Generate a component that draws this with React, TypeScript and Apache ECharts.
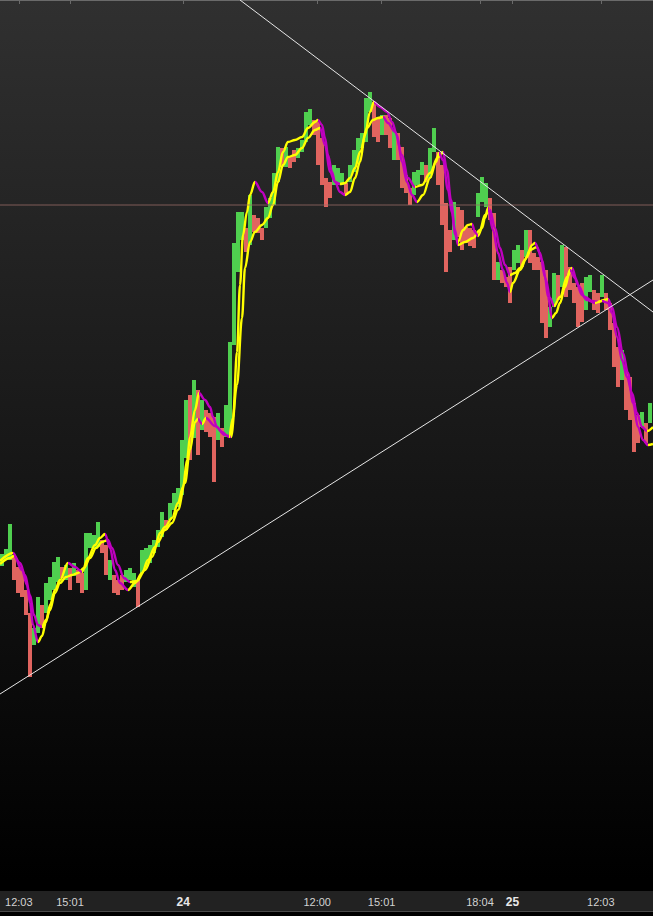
import React, { useEffect, useRef } from "react";
import * as echarts from "echarts";

// ---- Bars (one every bar slot; values are the price scale, top of chart = 0, inverted) ----
const barHigh = [
  554, 549, 524, 555, 567, 570, 590, 613, 628, 597, 605, 583, 577, 562, 557, 567, 565, 568, 563, 570,
  573, 533, 533, 535, 522, 540, 545, 560, 575, 580, 575, 570, 568, 573, 580, 550, 548, 545, 540, 530,
  512, 520, 503, 493, 488, 440, 400, 395, 380, 390, 400, 410, 413, 417, 413, 428, 405, 342, 243, 212,
  212, 228, 195, 215, 218, 228, 207, 198, 173, 147, 148, 147, 157, 150, 148, 140, 112, 109, 120, 122,
  138, 178, 182, 165, 168, 173, 183, 165, 150, 138, 133, 98, 92, 102, 118, 115, 115, 118, 130, 133,
  147, 175, 188, 172, 170, 162, 165, 148, 128, 152, 165, 203, 230, 202, 207, 210, 227, 228, 230, 193,
  177, 183, 198, 213, 262, 270, 277, 267, 250, 245, 250, 230, 230, 253, 257, 262, 270, 307, 273, 275,
  245, 247, 267, 283, 287, 283, 277, 275, 290, 293, 275, 293, 303, 323, 347, 350, 370, 377, 403, 415,
  412, 423, 403,
];
const barLow = [
  566, 560, 560, 580, 593, 597, 615, 677, 645, 633, 628, 613, 600, 590, 582, 578, 580, 590, 576, 583,
  593, 590, 548, 549, 547, 553, 575, 580, 593, 595, 590, 582, 580, 587, 607, 573, 567, 563, 553, 547,
  537, 530, 520, 510, 507, 495, 458, 460, 438, 455, 430, 432, 437, 482, 440, 447, 437, 437, 345, 272,
  240, 252, 245, 232, 233, 240, 228, 218, 205, 182, 167, 167, 168, 162, 158, 152, 142, 125, 135, 165,
  185, 207, 198, 185, 185, 185, 195, 182, 172, 163, 148, 142, 112, 137, 142, 135, 135, 148, 160, 160,
  188, 193, 205, 195, 185, 175, 182, 178, 152, 185, 225, 272, 252, 240, 237, 250, 243, 246, 248, 217,
  202, 207, 220, 280, 280, 283, 287, 303, 270, 263, 267, 257, 263, 270, 270, 323, 338, 327, 307, 300,
  287, 297, 290, 303, 327, 322, 310, 292, 310, 313, 297, 310, 330, 367, 387, 380, 410, 420, 452, 443,
  427, 443, 423,
];
const barUp = [
  1, 1, 1, 0, 0, 0, 0, 0, 1, 1, 0, 1, 1, 1, 1, 0, 1, 0, 1, 0,
  0, 1, 1, 1, 1, 0, 0, 1, 0, 0, 0, 1, 1, 1, 0, 1, 1, 1, 1, 1,
  1, 0, 1, 1, 1, 1, 1, 0, 1, 0, 1, 0, 0, 0, 1, 0, 1, 1, 1, 1,
  1, 0, 1, 0, 0, 0, 1, 1, 1, 1, 0, 1, 0, 0, 1, 1, 1, 1, 0, 0,
  0, 0, 0, 1, 1, 1, 0, 1, 1, 1, 1, 1, 1, 0, 0, 1, 0, 0, 1, 0,
  0, 0, 0, 1, 1, 1, 0, 1, 1, 0, 0, 0, 0, 1, 0, 0, 0, 0, 0, 1,
  1, 1, 0, 0, 1, 0, 0, 0, 1, 1, 0, 1, 0, 0, 0, 0, 0, 1, 1, 0,
  1, 0, 0, 0, 0, 0, 1, 1, 0, 0, 1, 0, 0, 0, 0, 1, 0, 0, 0, 0,
  1, 0, 1,
];

// ---- Moving averages (bar-index position, value) ----
const fastX = [
  -0.5, 2.75, 5, 6.25, 7, 7.75, 9, 10, 11, 12, 13.25, 14.5, 16.5, 18.25, 20, 21.5, 23.25, 24.5, 25.75, 27,
  28.25, 29.5, 31.5, 33.25, 35, 36.5, 38.25, 39.5, 40.75, 42.5, 44, 45.25, 46.25, 47, 48.25, 49.25, 50.75, 52, 52.75, 53.75,
  55, 56.75, 57.75, 58.75, 59.5, 60.25, 61.25, 62, 63.25, 65, 66.5, 67.75, 69, 70.25, 71.5, 73.25, 75, 76.5, 78.25, 79,
  80, 80.75, 81.5, 82.5, 83.25, 84.5, 85.75, 87, 88.25, 89.5, 90.75, 92, 93, 94.5, 96.25, 97.5, 98.75, 100, 101.25, 102.5,
  103.75, 105.25, 107, 108.5, 109.25, 110.25, 111.5, 112.5, 113.25, 114, 115.25, 116.5, 117.5, 118.25, 119, 120, 120.75, 121.5, 122.75, 124,
  125.25, 126.25, 127, 127.75, 129.5, 131.25, 132.5, 133.25, 134.5, 135.75, 136.5, 137.5, 138.5, 139.5, 140.75, 142, 143.25, 145, 146.25, 148.25,
  150, 151.5, 152.5, 153.75, 155, 156.25, 157.5, 158.75, 160, 161.25, 162.75,
];
const fastY = [
  561, 553, 570, 585, 603, 625, 642, 636, 622, 605, 590, 580, 563, 567, 572, 558, 545, 538, 534, 548,
  570, 583, 590, 583, 573, 560, 547, 533, 527, 518, 503, 487, 460, 437, 410, 393, 400, 407, 417, 427,
  432, 437, 418, 352, 285, 235, 212, 195, 182, 192, 203, 192, 172, 152, 142, 140, 137, 128, 122, 120,
  125, 138, 155, 172, 182, 192, 195, 192, 178, 162, 135, 112, 102, 107, 112, 122, 135, 162, 182, 195,
  202, 195, 178, 162, 153, 160, 190, 213, 235, 242, 230, 225, 224, 232, 236, 228, 218, 208, 230, 253,
  270, 283, 292, 283, 270, 257, 245, 243, 253, 277, 297, 318, 313, 303, 287, 270, 278, 295, 300, 303,
  301, 303, 313, 337, 360, 377, 393, 413, 427, 431, 427,
];
const slowX = [
  -0.5, 2, 3, 4.5, 5.75, 7, 8, 9, 10, 11, 12, 13.25, 14.5, 16, 17.5, 19, 20.5, 22, 23.5, 25,
  26.5, 27.5, 29, 30.5, 32, 33.75, 35.75, 37.5, 39, 40.75, 42.5, 44, 45.75, 47, 48.25, 49, 50, 51, 53.25, 55.75,
  57.25, 58.75, 60, 60.75, 62, 63.25, 65, 66.5, 67.75, 69, 70.25, 71.5, 73.25, 75, 76.5, 78.25, 79.5, 80.75, 82, 83.25,
  84.5, 85.75, 87, 88.25, 89.5, 91.25, 92.75, 94, 95.25, 96.5, 98.25, 100, 101.5, 103.25, 105, 107, 109, 110.25, 111.25, 112.25,
  113.25, 114, 115.75, 117.75, 119.5, 120.75, 122, 123.25, 124.5, 125.75, 127, 128.25, 129.5, 130.75, 132, 133.75, 135, 136, 137, 138,
  139.5, 141.25, 142.5, 144, 145.75, 147.5, 149, 150.5, 151.5, 152.5, 153.75, 155.25, 156.5, 157.75, 159, 160.25, 161.5, 162.75,
];
const slowY = [
  564, 558, 556, 563, 575, 595, 615, 625, 627, 620, 610, 593, 583, 577, 575, 573, 568, 558, 548, 542,
  540, 548, 565, 578, 582, 581, 570, 557, 542, 530, 523, 510, 483, 450, 422, 419, 424, 418, 426, 435,
  437, 385, 318, 268, 242, 232, 225, 218, 205, 182, 165, 157, 155, 148, 138, 130, 128, 145, 172, 182,
  184, 183, 178, 168, 152, 128, 120, 118, 117, 123, 132, 155, 178, 187, 185, 173, 157, 152, 170, 200,
  230, 245, 242, 238, 230, 215, 210, 228, 248, 265, 275, 273, 268, 260, 250, 247, 260, 280, 298, 306,
  297, 277, 268, 285, 297, 301, 302, 300, 299, 307, 327, 353, 373, 403, 427, 440, 445, 444,
];

// ---- Drawn lines ----
const trendRising = [[-0.5, 694], [162.75, 280]];
const trendFalling = [[59.5, 0], [162.75, 312]];
const levelValue = 205;

// ---- Time axis ----
const tickPos = [4.2, 17, 45.3, 78.8, 94.9, 119.5, 127.6, 149.7];
const tickText = ["12:03", "15:01", "24", "12:00", "15:01", "18:04", "25", "12:03"];

const X_MIN = -0.5;
const X_MAX = 162.75;
const GREEN = "#4fcf4f";
const RED = "#e0645f";
const YELLOW = "#ffff00";
const MAGENTA = "#c000c0";

function dirPieces(xs: number[], ys: number[]) {
  const pieces: any[] = [];
  let cur = ys[1] <= ys[0] ? "up" : "down";
  let start = xs[0];
  for (let k = 1; k < xs.length - 1; k++) {
    const d = ys[k + 1] < ys[k] ? "up" : ys[k + 1] > ys[k] ? "down" : cur;
    if (d !== cur) {
      pieces.push({ gte: start, lt: xs[k], color: cur === "up" ? YELLOW : MAGENTA });
      start = xs[k];
      cur = d;
    }
  }
  pieces.push({ gte: start, lte: xs[xs.length - 1] + 1, color: cur === "up" ? YELLOW : MAGENTA });
  return pieces;
}

export default function App() {
  const ref = useRef<HTMLDivElement>(null);
  useEffect(() => {
    document.body.style.margin = "0";
    document.body.style.background = "#000";
    const chart = echarts.init(ref.current!, undefined, { renderer: "svg" });
    const barData = barHigh.map((h, i) => [i, h, barLow[i], barUp[i]]);
    const fastData = fastX.map((x, i) => [x, fastY[i]]);
    const slowData = slowX.map((x, i) => [x, slowY[i]]);

    chart.setOption({
      animation: false,
      backgroundColor: {
        type: "linear",
        x: 0, y: 0, x2: 0, y2: 1,
        colorStops: [
          { offset: 0, color: "#303030" },
          { offset: 0.96, color: "#000000" },
          { offset: 1, color: "#000000" },
        ],
      },
      grid: { left: 0, right: 0, top: 0, bottom: 26, containLabel: false },
      xAxis: {
        type: "value",
        min: X_MIN,
        max: X_MAX,
        splitLine: { show: false },
        axisLine: { show: true, lineStyle: { color: "#6a6a6a", width: 1 } },
        axisTick: {
          show: true,
          length: 4,
          customValues: tickPos,
          lineStyle: { color: "#6a6a6a" },
        },
        axisLabel: {
          show: true,
          customValues: tickPos,
          margin: 6,
          color: "#d2d2d2",
          fontFamily: "Liberation Sans, Arial, sans-serif",
          fontSize: 11,
          formatter: (v: number) => {
            const k = tickPos.findIndex((t) => Math.abs(t - v) < 0.01);
            const s = k >= 0 ? tickText[k] : "";
            return s.indexOf(":") < 0 ? `{b|${s}}` : s;
          },
          rich: {
            b: {
              fontWeight: "bold",
              fontSize: 12,
              color: "#e8e8e8",
              fontFamily: "Liberation Sans, Arial, sans-serif",
            },
          },
        },
      },
      yAxis: {
        type: "value",
        inverse: true,
        min: 0,
        max: 890,
        show: false,
        splitLine: { show: false },
      },
      visualMap: [
        { show: false, type: "piecewise", seriesIndex: 1, dimension: 0, pieces: dirPieces(slowX, slowY) },
        { show: false, type: "piecewise", seriesIndex: 2, dimension: 0, pieces: dirPieces(fastX, fastY) },
      ],
      graphic: [
        {
          type: "rect",
          z: -1,
          shape: { x: 0, y: 891, width: 653, height: 20 },
          style: { fill: "#222222" },
        },
        {
          type: "rect",
          z: -1,
          shape: { x: 0, y: 911, width: 653, height: 1 },
          style: { fill: "#4a4a4a" },
        },
      ],
      series: [
        {
          type: "custom",
          name: "bars",
          data: barData,
          encode: { x: 0, y: [1, 2] },
          z: 2,
          renderItem: (params: any, api: any) => {
            const x = api.value(0);
            const p1 = api.coord([x, api.value(1)]);
            const p2 = api.coord([x, api.value(2)]);
            const w = api.size([1, 0])[0];
            return {
              type: "rect",
              shape: {
                x: p1[0] - w / 2,
                y: Math.min(p1[1], p2[1]),
                width: w,
                height: Math.max(1, Math.abs(p2[1] - p1[1])),
              },
              style: { fill: api.value(3) ? GREEN : RED },
            };
          },
        },
        {
          type: "line",
          name: "slow",
          data: slowData,
          smooth: 0.35,
          smoothMonotone: "x",
          showSymbol: false,
          z: 3,
          lineStyle: { width: 2.4 },
        },
        {
          type: "line",
          name: "fast",
          data: fastData,
          smooth: 0.35,
          smoothMonotone: "x",
          showSymbol: false,
          z: 4,
          lineStyle: { width: 2.4 },
        },
        {
          type: "line",
          name: "level",
          data: [[X_MIN, levelValue], [X_MAX, levelValue]],
          showSymbol: false,
          z: 5,
          lineStyle: { width: 1, color: "rgba(150,105,100,0.8)" },
        },
        {
          type: "line",
          name: "trendRising",
          data: trendRising,
          showSymbol: false,
          z: 6,
          lineStyle: { width: 1, color: "#e6e6e6" },
        },
        {
          type: "line",
          name: "trendFalling",
          data: trendFalling,
          showSymbol: false,
          z: 6,
          lineStyle: { width: 1, color: "#e6e6e6" },
        },
      ],
    });
    return () => chart.dispose();
  }, []);
  return <div ref={ref} style={{ width: 653, height: 916 }} />;
}
